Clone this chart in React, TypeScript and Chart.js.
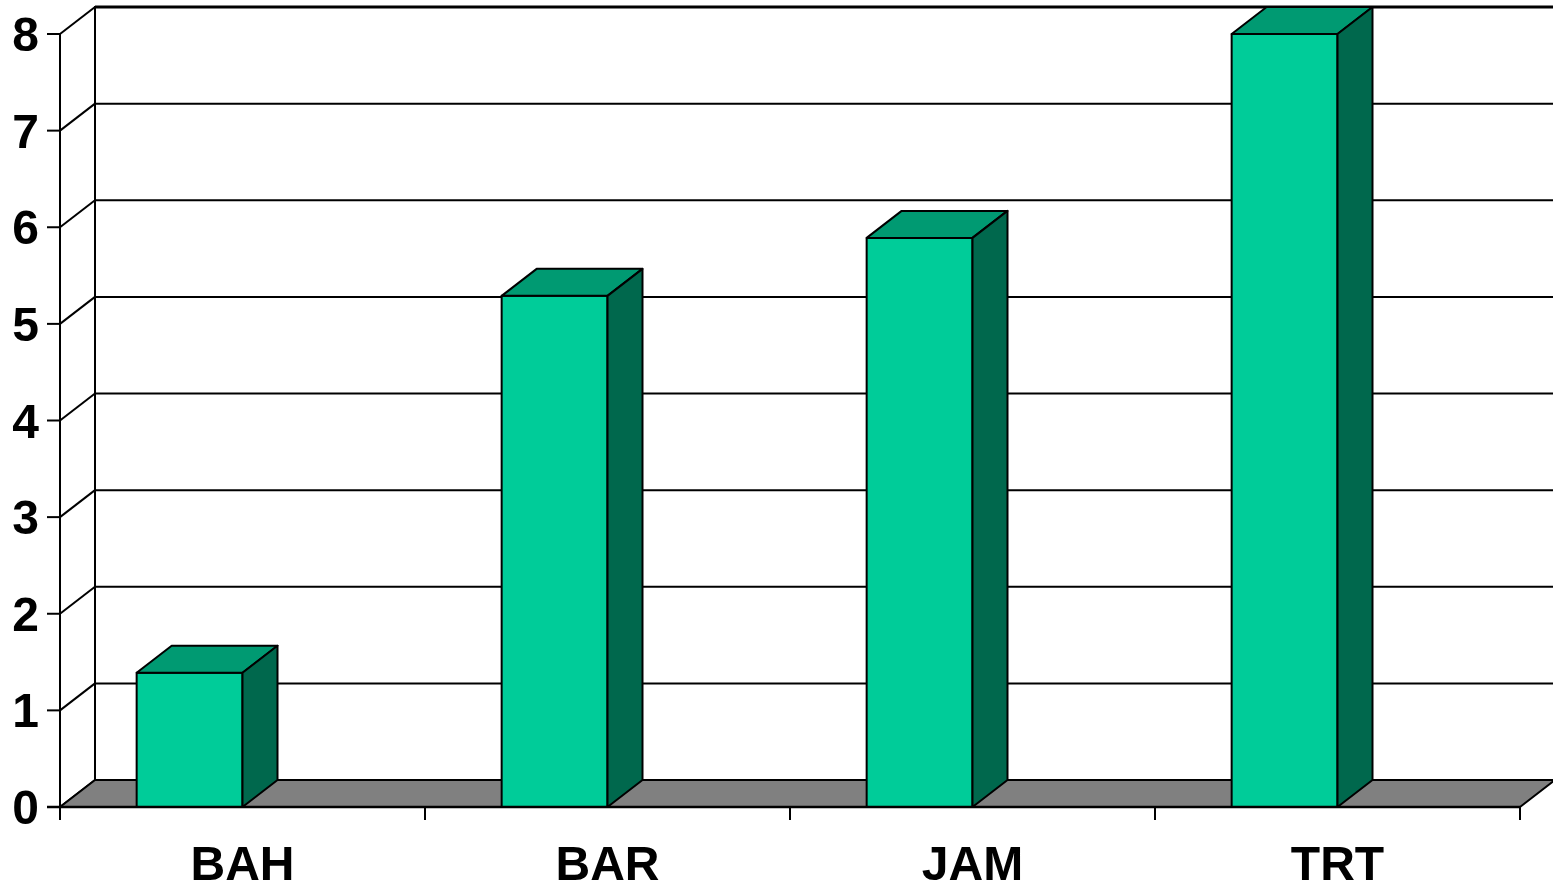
import React, { useEffect, useRef } from "react";
import { Chart, registerables } from "chart.js";

Chart.register(...registerables);

const categories = ["BAH", "BAR", "JAM", "TRT"];
const values = [1.39, 5.29, 5.89, 8.0];
const yTicks = [0, 1, 2, 3, 4, 5, 6, 7, 8];

const DX = 35;
const DY = 27;
const FONT = "bold 48px 'Liberation Sans', Arial, sans-serif";

function seg(ctx: CanvasRenderingContext2D, x1: number, y1: number, x2: number, y2: number) {
  ctx.beginPath();
  ctx.moveTo(x1, y1);
  ctx.lineTo(x2, y2);
  ctx.stroke();
}

function poly(ctx: CanvasRenderingContext2D, pts: number[][], fill: string, lw: number) {
  ctx.beginPath();
  ctx.moveTo(pts[0][0], pts[0][1]);
  for (let i = 1; i < pts.length; i++) ctx.lineTo(pts[i][0], pts[i][1]);
  ctx.closePath();
  ctx.fillStyle = fill;
  ctx.fill();
  ctx.lineWidth = lw;
  ctx.lineJoin = "round";
  ctx.strokeStyle = "#000";
  ctx.stroke();
}

const threeD = {
  id: "threeD",
  beforeDatasetsDraw(chart: any) {
    const { ctx, chartArea: a, scales } = chart;
    const ys = scales.y;
    ctx.save();
    ctx.strokeStyle = "#000";
    // back wall gridlines
    yTicks.forEach((t) => {
      const py = ys.getPixelForValue(t);
      ctx.lineWidth = t === yTicks[yTicks.length - 1] ? 3 : 2;
      seg(ctx, a.left + DX, py - DY, a.right + DX + 10, py - DY);
    });
    // back wall left edge
    ctx.lineWidth = 2;
    seg(ctx, a.left + DX, ys.getPixelForValue(yTicks[yTicks.length - 1]) - DY - 1, a.left + DX, a.bottom - DY);
    // side wall diagonals
    yTicks.forEach((t) => {
      const py = ys.getPixelForValue(t);
      seg(ctx, a.left, py, a.left + DX, py - DY);
    });
    // front vertical axis
    seg(ctx, a.left, a.top, a.left, a.bottom + 13);
    // y tick marks and labels
    ctx.font = FONT;
    ctx.fillStyle = "#000";
    ctx.textAlign = "right";
    ctx.textBaseline = "alphabetic";
    yTicks.forEach((t) => {
      const py = ys.getPixelForValue(t);
      seg(ctx, a.left - 13, py, a.left, py);
      ctx.fillText(String(t), a.left - 21, py + 17);
    });
    // floor
    poly(
      ctx,
      [
        [a.left, a.bottom],
        [a.right, a.bottom],
        [a.right + DX, a.bottom - DY],
        [a.left + DX, a.bottom - DY],
      ],
      "#808080",
      2
    );
    ctx.restore();
  },
  afterDatasetsDraw(chart: any) {
    const { ctx, chartArea: a, scales } = chart;
    const xs = scales.x;
    const meta = chart.getDatasetMeta(0);
    ctx.save();
    meta.data.forEach((el: any) => {
      const { x, y, base, width } = el.getProps(["x", "y", "base", "width"], true);
      const L = x - width;
      const R = x;
      const T = y;
      const B = base;
      poly(ctx, [[L, T], [R, T], [R, B], [L, B]], "#00CC99", 2);
      poly(ctx, [[L, T], [R, T], [R + DX, T - DY], [L + DX, T - DY]], "#009A72", 2);
      poly(ctx, [[R, T], [R + DX, T - DY], [R + DX, B - DY], [R, B]], "#00684D", 2);
    });
    // front x axis line
    ctx.strokeStyle = "#000";
    ctx.lineWidth = 2.5;
    seg(ctx, a.left - 13, a.bottom, a.right, a.bottom);
    // x ticks at category boundaries
    ctx.lineWidth = 2;
    const n = categories.length;
    for (let i = 0; i <= n; i++) {
      const px = a.left + ((a.right - a.left) * i) / n;
      seg(ctx, px, a.bottom, px, a.bottom + 13);
    }
    // category labels
    ctx.font = FONT;
    ctx.fillStyle = "#000";
    ctx.textAlign = "center";
    ctx.textBaseline = "alphabetic";
    categories.forEach((c, i) => {
      ctx.fillText(c, xs.getPixelForValue(i), a.bottom + 73);
    });
    ctx.restore();
  },
};

export default function App() {
  const ref = useRef<HTMLCanvasElement | null>(null);
  useEffect(() => {
    if (!ref.current) return;
    const chart = new Chart(ref.current, {
      type: "bar",
      data: {
        labels: categories,
        datasets: [
          {
            data: values,
            backgroundColor: "rgba(0,0,0,0)",
            borderWidth: 0,
            barPercentage: 1,
            categoryPercentage: 0.29,
          },
        ],
      },
      options: {
        responsive: false,
        animation: false,
        devicePixelRatio: 1,
        layout: { padding: { left: 60, right: 33, top: 34, bottom: 78 } },
        plugins: { legend: { display: false }, tooltip: { enabled: false } },
        scales: {
          x: { display: false, offset: true },
          y: { display: false, min: 0, max: 8 },
        },
      },
      plugins: [threeD],
    });
    return () => chart.destroy();
  }, []);
  return (
    <div style={{ position: "fixed", left: 0, top: 0, width: 1553, height: 885, background: "#fff" }}>
      <canvas ref={ref} width={1553} height={885} />
    </div>
  );
}
